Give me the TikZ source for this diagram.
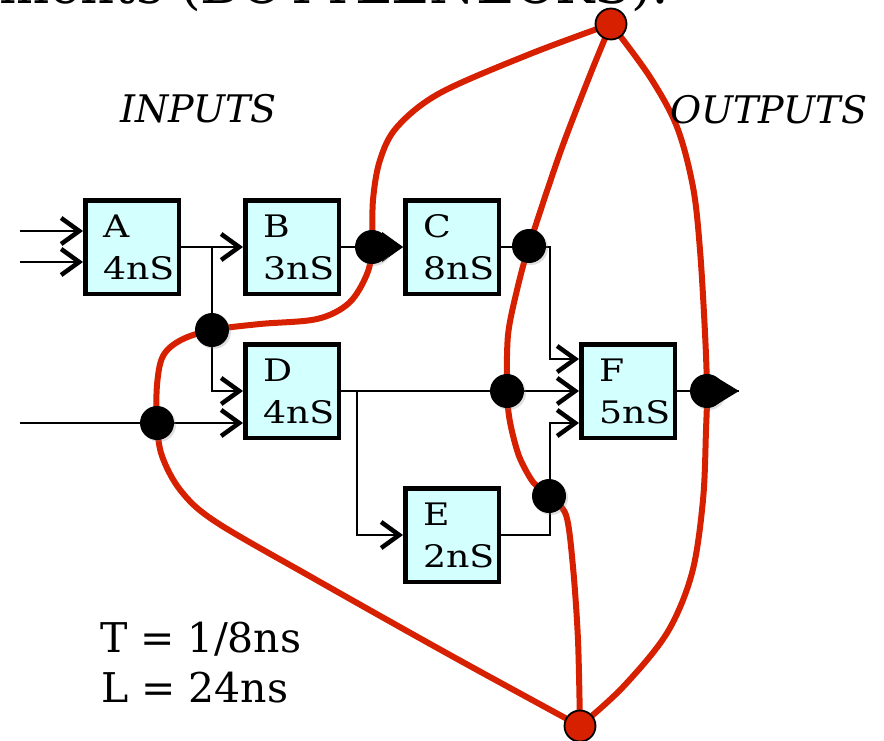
\documentclass[tikz,border=0pt]{standalone}
\usepackage{fontspec}
\setmainfont{DejaVu Serif}
\newfontfamily\boxfont[FakeStretch=1.17]{DejaVu Serif}
\usetikzlibrary{arrows.meta,shadows,calc}
\definecolor{boxfill}{RGB}{212,255,255}
\definecolor{pathred}{RGB}{214,32,0}
\pgfdeclarelayer{bg}
\pgfsetlayers{bg,main}
\begin{document}
\begin{tikzpicture}[x=1pt,y=-1pt,
 blk/.style={draw, line width=4.5pt, fill=boxfill, minimum width=93.5pt, minimum height=93.5pt,
   text width=58pt, inner xsep=17pt, inner ysep=0pt, align=left,
   font=\boxfont\fontsize{31}{42}\selectfont},
 wire/.style={line width=2.2pt},
 arr/.style={wire, -{Straight Barb[length=18pt,width=26pt,line width=4.5pt]}},
 dot/.style={circle, fill=black, minimum size=34pt, inner sep=0pt,
   drop shadow={shadow xshift=2pt,shadow yshift=-2pt,opacity=0.25}},
 rdot/.style={circle, fill=pathred, draw=black, line width=1.8pt, minimum size=31pt, inner sep=0pt},
 crit/.style={draw=pathred, line width=6pt, line cap=round, line join=round},
 lbl/.style={font=\fontsize{38}{44}\selectfont\itshape, anchor=base west, inner sep=0pt},
 note/.style={font=\fontsize{41}{48}\selectfont, anchor=base west, inner sep=0pt},
]
\useasboundingbox (0,0) rectangle (884,740);

% partial title at the top edge
\node[anchor=base east, font=\fontsize{53}{56}\selectfont, inner sep=0pt] (title) at (670,3) {elements (BOTTLENECKS):};

% labels
\node[lbl] (inputs) at (120,122) {INPUTS};
\node[lbl] (outputs) at (670,123) {OUTPUTS};
\node[note] (tput) at (100,652) {T = 1/8ns};
\node[note] (lat) at (101,702) {L = 24ns};

% blocks
\node[blk] (A) at (132,247) {A\\4nS};
\node[blk] (B) at (292,247) {B\\3nS};
\node[blk] (C) at (452,247) {C\\8nS};
\node[blk] (D) at (292,391) {D\\4nS};
\node[blk] (E) at (452,535) {E\\2nS};
\node[blk] (F) at (628,391) {F\\5nS};

% free ends and junctions
\coordinate (in1) at (20,231);
\coordinate (in2) at (20,262);
\coordinate (in3) at (20,423);
\coordinate (j1) at (212,247);
\coordinate (j2) at (357,391);
\coordinate (fout) at (739,391);

% dots
\node[dot] (d1) at (372,247) {};
\node[dot] (d2) at (212,330) {};
\node[dot] (d3) at (157,423) {};
\node[dot] (d4) at (529,246) {};
\node[dot] (d5) at (507,391) {};
\node[dot] (d6) at (549,496) {};
\node[dot] (d7) at (707,391) {};
\fill ($(d1)+(9.3,-13.8)$) -- (C.west) -- ($(d1)+(9.3,13.8)$) -- cycle;
\fill ($(d7)+(9.3,-13.8)$) -- (fout) -- ($(d7)+(9.3,13.8)$) -- cycle;

\node[rdot] (rtop) at (611,24) {};
\node[rdot] (rbot) at (580,726) {};

\begin{pgfonlayer}{bg}
% wires
\draw[arr] (in1) -- (in1 -| A.west);
\draw[arr] (in2) -- (in2 -| A.west);
\draw[arr] (in3) -- (in3 -| D.west);
\draw[arr] (A.east) -- (B.west);
\draw[arr] (j1) |- (D.west);
\draw[arr] (B.east) -- (C.west);
\draw[arr] (C.east) -- ++(49,0) |- ($(F.west)+(0,-32)$);
\draw[arr] (D.east) -- (F.west);
\draw[arr] (j2) |- (E.west);
\draw[arr] (E.east) -- ++(49,0) |- ($(F.west)+(0,32)$);
\draw[wire] (F.east) -- (fout);

% critical paths
\draw[crit] plot[smooth, tension=0.55] coordinates {(rtop) (530,54) (440,93) (397,127) (380,160) (373,200) (d1) (367,274) (349,303) (317,319) (260,324) (d2) (181,340) (163,356) (157,385) (d3) (162,456) (181,491) (216,522) (313,578) (450,655) (rbot)};
\draw[crit] plot[smooth, tension=0.5] coordinates {(rtop) (590,75) (560,153) (d4) (517,290) (508,335) (d5) (510,422) (519,456) (533,482) (d6) (566,515) (573,567) (578,640) (rbot)};
\draw[crit] plot[smooth, tension=0.55] coordinates {(rtop) (650,77) (677,127) (693,187) (700,250) (705,333) (d7) (706,430) (703,500) (692,573) (667,633) (623,687) (rbot)};
\end{pgfonlayer}
\end{tikzpicture}
\end{document}
